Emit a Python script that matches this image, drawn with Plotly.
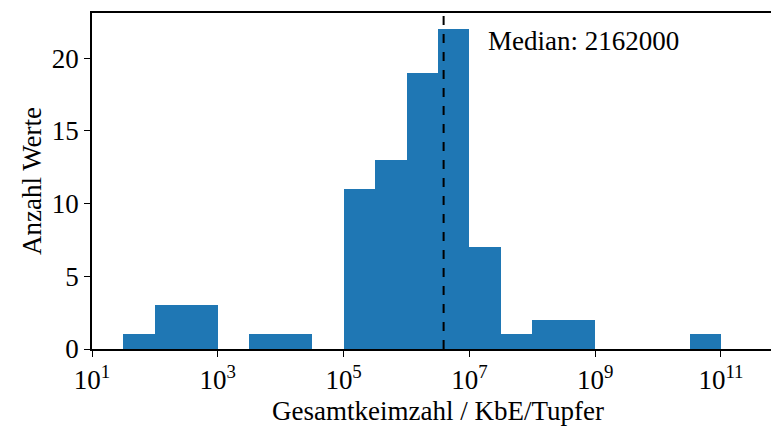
import plotly.graph_objects as go

# Histogram data (bin edges in log10 units, counts per bin)
bin_edges_log10 = [1.5, 2.0, 2.5, 3.0, 3.5, 4.0, 4.5, 5.0, 5.5, 6.0, 6.5, 7.0, 7.5, 8.0, 8.5, 9.0,
                   9.5, 10.0, 10.5, 11.0]
counts = [1, 3, 3, 0, 1, 1, 0, 11, 13, 19, 22, 7, 1, 2, 2, 0, 0, 0, 1]
median_value = 2162000
median_line_log10 = 6.59
x_tick_exponents = [1, 3, 5, 7, 9, 11]
y_ticks = [0, 5, 10, 15, 20]

centers = [(a + b) / 2 for a, b in zip(bin_edges_log10[:-1], bin_edges_log10[1:])]
widths = [b - a for a, b in zip(bin_edges_log10[:-1], bin_edges_log10[1:])]

FONT = "Liberation Serif"
FS = 27

fig = go.Figure()
fig.add_trace(go.Bar(x=centers, y=counts, width=widths, marker=dict(color="#1f77b4", line=dict(width=0)),
                     showlegend=False))
fig.add_shape(type="line", x0=median_line_log10, x1=median_line_log10, y0=0, y1=1, yref="paper",
              line=dict(color="black", width=2, dash="dash"))
fig.add_annotation(x=7.27, y=21.2, text=f"Median: {median_value}", showarrow=False,
                   xanchor="left", yanchor="middle", font=dict(family=FONT, size=FS, color="black"))
fig.add_annotation(x=6.5, y=-0.135, yref="paper", text="Gesamtkeimzahl / KbE/Tupfer", showarrow=False,
                   xanchor="center", yanchor="top", font=dict(family=FONT, size=FS, color="black"))

fig.update_layout(
    width=771, height=427,
    margin=dict(l=92, r=0, t=13, b=78),
    plot_bgcolor="white", paper_bgcolor="white",
    font=dict(family=FONT, size=FS, color="black"),
    bargap=0,
    xaxis=dict(range=[1, 11.795], tickvals=x_tick_exponents,
               ticktext=[f"10<sup>{e}</sup>" for e in x_tick_exponents],
               showgrid=False, zeroline=False, showline=True, linecolor="black", linewidth=1.6,
               mirror=True, ticks="outside", ticklen=6, tickwidth=1.4, tickcolor="black"),
    yaxis=dict(range=[0, 23.1], tickvals=y_ticks, showgrid=False, zeroline=False,
               showline=True, linecolor="black", linewidth=1.6, ticks="outside", ticklen=6,
               tickwidth=1.4, tickcolor="black",
               title=dict(text="Anzahl Werte", standoff=2, font=dict(family=FONT, size=FS))),
)

fig.write_html("out.html")
